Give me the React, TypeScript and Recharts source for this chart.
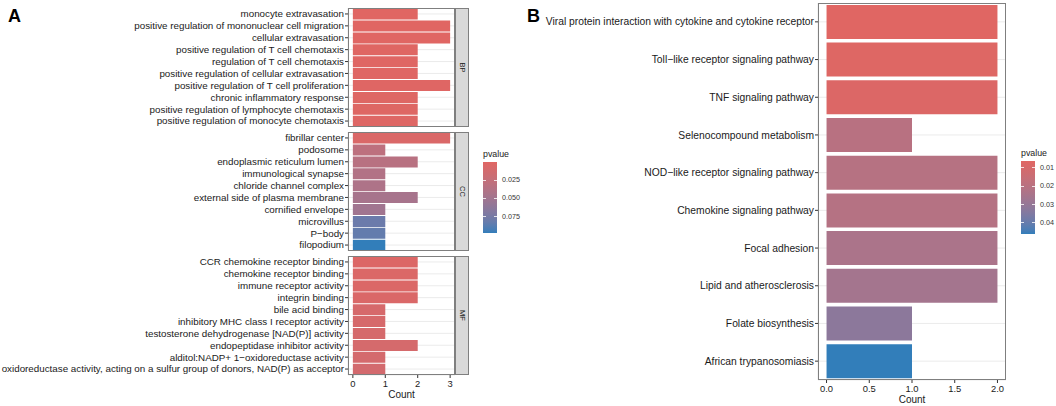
import React from 'react';
import { BarChart, Bar, XAxis, YAxis, CartesianGrid, Cell, Label } from 'recharts';

// Panel A: GO terms, three facets (top to bottom as drawn)
const bpTerms = [
  'monocyte extravasation',
  'positive regulation of mononuclear cell migration',
  'cellular extravasation',
  'positive regulation of T cell chemotaxis',
  'regulation of T cell chemotaxis',
  'positive regulation of cellular extravasation',
  'positive regulation of T cell proliferation',
  'chronic inflammatory response',
  'positive regulation of lymphocyte chemotaxis',
  'positive regulation of monocyte chemotaxis',
];
const bpCounts = [2, 3, 3, 2, 2, 2, 3, 2, 2, 2];
const bpPvalues = [0.0004, 0.0005, 0.0007, 0.0009, 0.0011, 0.0013, 0.0015, 0.0018, 0.002, 0.0022];

const ccTerms = [
  'fibrillar center',
  'podosome',
  'endoplasmic reticulum lumen',
  'immunological synapse',
  'chloride channel complex',
  'external side of plasma membrane',
  'cornified envelope',
  'microvillus',
  'P\u2212body',
  'filopodium',
];
const ccCounts = [3, 1, 2, 1, 1, 2, 1, 1, 1, 1];
const ccPvalues = [0.006, 0.03, 0.034, 0.038, 0.041, 0.046, 0.05, 0.08, 0.083, 0.097];

const mfTerms = [
  'CCR chemokine receptor binding',
  'chemokine receptor binding',
  'immune receptor activity',
  'integrin binding',
  'bile acid binding',
  'inhibitory MHC class I receptor activity',
  'testosterone dehydrogenase [NAD(P)] activity',
  'endopeptidase inhibitor activity',
  'alditol:NADP+ 1\u2212oxidoreductase activity',
  'oxidoreductase activity, acting on a sulfur group of donors, NAD(P) as acceptor',
];
const mfCounts = [2, 2, 2, 2, 1, 1, 1, 2, 1, 1];
const mfPvalues = [0.004, 0.0045, 0.005, 0.006, 0.009, 0.009, 0.01, 0.01, 0.011, 0.012];

const aLegendTicks = [0.025, 0.05, 0.075];
const aCountTicks = [0, 1, 2, 3];
const aGridTicks = [0, 0.5, 1, 1.5, 2, 2.5, 3];

// Panel B: KEGG pathways
const keggTerms = [
  'Viral protein interaction with cytokine and cytokine receptor',
  'Toll\u2212like receptor signaling pathway',
  'TNF signaling pathway',
  'Selenocompound metabolism',
  'NOD\u2212like receptor signaling pathway',
  'Chemokine signaling pathway',
  'Focal adhesion',
  'Lipid and atherosclerosis',
  'Folate biosynthesis',
  'African trypanosomiasis',
];
const keggCounts = [2, 2, 2, 1, 2, 2, 2, 2, 1, 1];
const keggPvalues = [0.0062, 0.0068, 0.0075, 0.02, 0.0205, 0.021, 0.024, 0.026, 0.032, 0.046];

const bLegendTicks = [0.01, 0.02, 0.03, 0.04];
const bCountTicks = [0, 0.5, 1, 1.5, 2];
const bGridTicks = [0, 0.25, 0.5, 0.75, 1, 1.25, 1.5, 1.75, 2];

const LOW = '#e06663';
const HIGH = '#327eba';
const FONT = '"Liberation Sans", Arial, Helvetica, sans-serif';
const BORDER = '#7f7f7f';
const GRID = '#ebebeb';
const INK = '#1a1a1a';

// --- colour ramp in Lab space, like ggplot's gradient ---
const toLin = (c: number) => {
  c /= 255;
  return c <= 0.04045 ? c / 12.92 : Math.pow((c + 0.055) / 1.055, 2.4);
};
const fromLin = (c: number) => {
  const v = c <= 0.0031308 ? 12.92 * c : 1.055 * Math.pow(c, 1 / 2.4) - 0.055;
  return Math.max(0, Math.min(255, Math.round(v * 255)));
};
const hexToLab = (hex: string) => {
  const r = toLin(parseInt(hex.slice(1, 3), 16));
  const g = toLin(parseInt(hex.slice(3, 5), 16));
  const b = toLin(parseInt(hex.slice(5, 7), 16));
  const x = (0.4124 * r + 0.3576 * g + 0.1805 * b) / 0.95047;
  const y = 0.2126 * r + 0.7152 * g + 0.0722 * b;
  const z = (0.0193 * r + 0.1192 * g + 0.9505 * b) / 1.08883;
  const f = (t: number) => (t > 0.008856 ? Math.cbrt(t) : 7.787 * t + 16 / 116);
  const fx = f(x), fy = f(y), fz = f(z);
  return [116 * fy - 16, 500 * (fx - fy), 200 * (fy - fz)];
};
const labToRgb = ([L, a, bb]: number[]) => {
  const fy = (L + 16) / 116;
  const fx = fy + a / 500;
  const fz = fy - bb / 200;
  const inv = (t: number) => (t * t * t > 0.008856 ? t * t * t : (t - 16 / 116) / 7.787);
  const x = inv(fx) * 0.95047, y = inv(fy), z = inv(fz) * 1.08883;
  const r = 3.2406 * x - 1.5372 * y - 0.4986 * z;
  const g = -0.9689 * x + 1.8758 * y + 0.0415 * z;
  const b = 0.0557 * x - 0.204 * y + 1.057 * z;
  return `rgb(${fromLin(r)},${fromLin(g)},${fromLin(b)})`;
};
const lowLab = hexToLab(LOW);
const highLab = hexToLab(HIGH);
const ramp = (t: number) => labToRgb(lowLab.map((v, i) => v + (highLab[i] - v) * t));

const makeScale = (vals: number[]) => {
  const min = Math.min(...vals), max = Math.max(...vals);
  return (p: number) => (p - min) / (max - min);
};
const aScale = makeScale([...bpPvalues, ...ccPvalues, ...mfPvalues]);
const bScale = makeScale(keggPvalues);

const rows = (terms: string[], counts: number[], pvals: number[]) =>
  terms.map((term, i) => ({ term, count: counts[i], p: pvals[i] }));

const makeYTick = (size: number) => ({ x, y, payload }: any) => (
  <text x={x} y={y} dy="0.35em" textAnchor="end" fontSize={size} fill={INK}>
    {payload.value}
  </text>
);
const YTickA = makeYTick(9.8);
const YTickB = makeYTick(10.3);

function ColorBar({ left, top, height, ticks, scale, fmt }: any) {
  const stops = Array.from({ length: 21 }, (_, i) => `${ramp(i / 20)} ${i * 5}%`).join(', ');
  return (
    <div style={{ position: 'absolute', left, top: top - 12, fontFamily: FONT }}>
      <div style={{ fontSize: 8.8, lineHeight: 1, color: INK, height: 12 }}>pvalue</div>
      <div style={{ position: 'relative', width: 14, height, background: `linear-gradient(to bottom, ${stops})` }}>
        {ticks.map((t: number) => {
          const y = scale(t) * height;
          return (
            <React.Fragment key={t}>
              <div style={{ position: 'absolute', left: 0, top: y - 0.5, width: 3, height: 1, background: 'rgba(255,255,255,0.8)' }} />
              <div style={{ position: 'absolute', right: 0, top: y - 0.5, width: 3, height: 1, background: 'rgba(255,255,255,0.8)' }} />
              <div style={{ position: 'absolute', left: 19, top: y - 4, fontSize: 7.2, lineHeight: '8px', color: '#333' }}>{fmt(t)}</div>
            </React.Fragment>
          );
        })}
      </div>
    </div>
  );
}

function Facet({ data, top, strip, showAxis }: any) {
  const plotH = 119;
  const axisH = showAxis ? 26 : 0;
  return (
    <div style={{ position: 'absolute', left: 0, top, width: 470, height: plotH + axisH }}>
      <BarChart
        width={455}
        height={plotH + axisH}
        data={data}
        layout="vertical"
        margin={{ top: 0, right: 0, bottom: 0, left: 0 }}
        barCategoryGap="5%"
      >
        <XAxis xAxisId="g" type="number" domain={[-0.15, 3.15]} ticks={aGridTicks} hide />
        <CartesianGrid xAxisId="g" stroke={GRID} />
        <XAxis
          type="number"
          dataKey="count"
          domain={[-0.15, 3.15]}
          ticks={aCountTicks}
          interval={0}
          hide={!showAxis}
          height={axisH}
          tickSize={3}
          tickMargin={2}
          axisLine={false}
          tickLine={{ stroke: '#333' }}
          tick={{ fontSize: 9.4, fill: INK }}
        >
          {showAxis && <Label value="Count" position="insideBottom" offset={3} fontSize={10} fill={INK} />}
        </XAxis>
        <YAxis
          type="category"
          dataKey="term"
          width={348}
          interval={0}
          tickSize={3}
          tickMargin={1}
          axisLine={false}
          tickLine={{ stroke: '#333' }}
          tick={<YTickA />}
        />
        <Bar dataKey="count" isAnimationActive={false}>
          {data.map((r: any) => (
            <Cell key={r.term} fill={ramp(aScale(r.p))} />
          ))}
        </Bar>
      </BarChart>
      <div style={{ position: 'absolute', left: 348, top: 0, width: 107, height: plotH, border: `1px solid ${BORDER}`, boxSizing: 'border-box' }} />
      <div
        style={{
          position: 'absolute', left: 455, top: 0, width: 14, height: plotH, background: '#d9d9d9',
          border: `1px solid ${BORDER}`, boxSizing: 'border-box', display: 'flex', alignItems: 'center', justifyContent: 'center',
        }}
      >
        <span style={{ transform: 'rotate(90deg)', fontSize: 7.5, color: INK, whiteSpace: 'nowrap' }}>{strip}</span>
      </div>
    </div>
  );
}

export default function App() {
  const kegg = rows(keggTerms, keggCounts, keggPvalues);
  const bPlotH = 377;
  return (
    <div style={{ position: 'absolute', left: 0, top: 0, width: 1056, height: 406, background: '#fff', overflow: 'hidden', fontFamily: FONT }}>
      <div style={{ position: 'absolute', left: 8, top: 7, fontSize: 18, fontWeight: 'bold', lineHeight: 1 }}>A</div>
      <div style={{ position: 'absolute', left: 527, top: 7, fontSize: 18, fontWeight: 'bold', lineHeight: 1 }}>B</div>

      <Facet data={rows(bpTerms, bpCounts, bpPvalues)} top={8} strip="BP" />
      <Facet data={rows(ccTerms, ccCounts, ccPvalues)} top={132} strip="CC" />
      <Facet data={rows(mfTerms, mfCounts, mfPvalues)} top={256} strip="MF" showAxis />

      <ColorBar left={483} top={162} height={71} ticks={aLegendTicks} scale={aScale} fmt={(v: number) => v.toFixed(3)} />

      <div style={{ position: 'absolute', left: 540, top: 3, width: 470, height: 403 }}>
        <BarChart
          width={466}
          height={403}
          data={kegg}
          layout="vertical"
          margin={{ top: 0, right: 0, bottom: 0, left: 0 }}
          barCategoryGap="5%"
        >
          <XAxis xAxisId="g" type="number" domain={[-0.1, 2.1]} ticks={bGridTicks} hide />
          <CartesianGrid xAxisId="g" stroke={GRID} />
          <XAxis
            type="number"
            dataKey="count"
            domain={[-0.1, 2.1]}
            ticks={bCountTicks}
            interval={0}
            height={403 - bPlotH}
            tickSize={3}
            tickMargin={2}
            axisLine={false}
            tickLine={{ stroke: '#333' }}
            tick={{ fontSize: 9.4, fill: INK }}
            tickFormatter={(v: number) => v.toFixed(1)}
          >
            <Label value="Count" position="insideBottom" offset={3} fontSize={10} fill={INK} />
          </XAxis>
          <YAxis
            type="category"
            dataKey="term"
            width={278}
            interval={0}
            tickSize={3}
            tickMargin={1}
            axisLine={false}
            tickLine={{ stroke: '#333' }}
            tick={<YTickB />}
          />
          <Bar dataKey="count" isAnimationActive={false}>
            {kegg.map((r) => (
              <Cell key={r.term} fill={ramp(bScale(r.p))} />
            ))}
          </Bar>
        </BarChart>
        <div style={{ position: 'absolute', left: 278, top: 0, width: 188, height: bPlotH, border: `1px solid ${BORDER}`, boxSizing: 'border-box' }} />
      </div>

      <ColorBar left={1021} top={161} height={73} ticks={bLegendTicks} scale={bScale} fmt={(v: number) => v.toFixed(2)} />
    </div>
  );
}
